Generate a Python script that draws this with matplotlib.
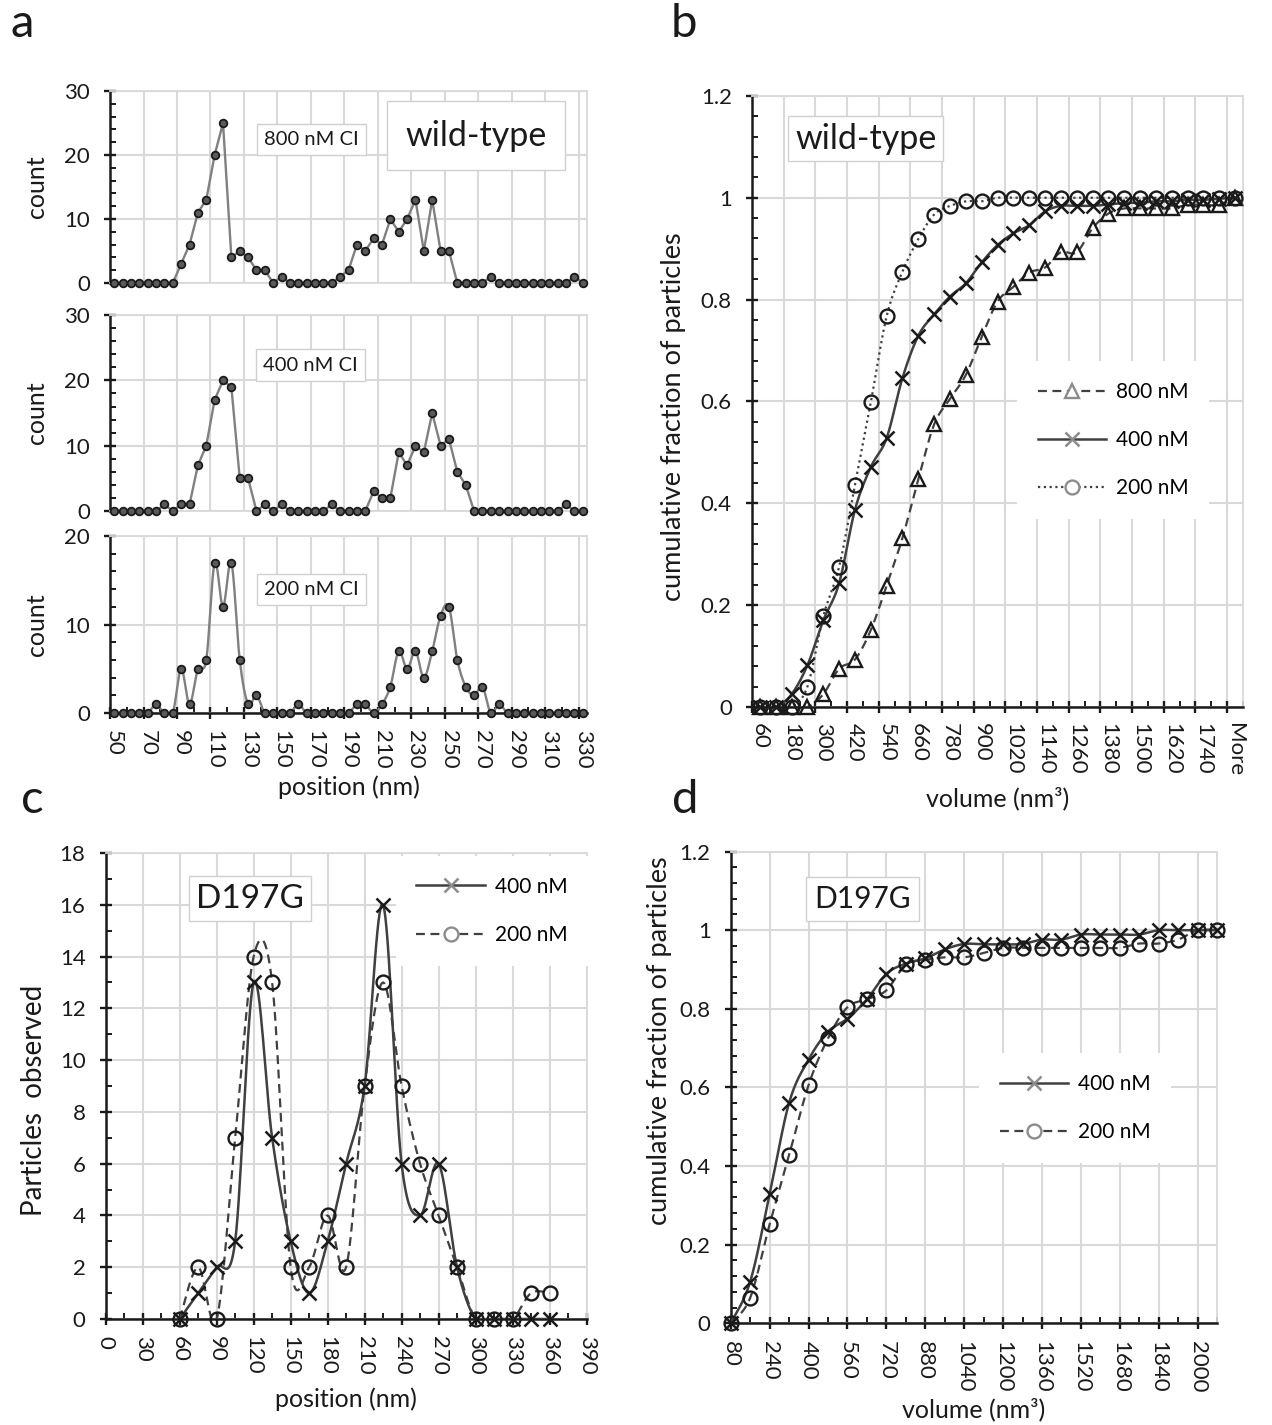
import numpy as np
import matplotlib
matplotlib.use("Agg")
import matplotlib.pyplot as plt
from matplotlib.lines import Line2D
from matplotlib.ticker import MultipleLocator, FixedLocator, FuncFormatter

plt.rcParams["font.family"] = ["Lato", "DejaVu Sans"]

# ---------------- data ----------------
# panel a: particle counts per 5 nm position bin (wild-type)
a_positions = np.arange(50, 335, 5)
a_800 = [0, 0, 0, 0, 0, 0, 0, 0, 3, 6, 11, 13, 20, 25, 4, 5, 4, 2, 2, 0, 1,
         0, 0, 0, 0, 0, 0, 1, 2, 6, 5, 7, 6, 10, 8, 10, 13, 5, 13, 5, 5,
         0, 0, 0, 0, 1, 0, 0, 0, 0, 0, 0, 0, 0, 0, 1, 0]
a_400 = [0, 0, 0, 0, 0, 0, 1, 0, 1, 1, 7, 10, 17, 20, 19, 5, 5, 0, 1, 0, 1,
         0, 0, 0, 0, 0, 1, 0, 0, 0, 0, 3, 2, 2, 9, 7, 10, 9, 15, 10, 11, 6, 4,
         0, 0, 0, 0, 0, 0, 0, 0, 0, 0, 0, 1, 0, 0]
a_200 = [0, 0, 0, 0, 0, 1, 0, 0, 5, 1, 5, 6, 17, 12, 17, 6, 1, 2,
         0, 0, 0, 0, 1, 0, 0, 0, 0, 0, 0, 1, 1, 0, 1,
         3, 7, 5, 7, 4, 7, 11, 12, 6, 3, 2, 3, 0, 1,
         0, 0, 0, 0, 0, 0, 0, 0, 0, 0]

# panel b: cumulative fraction vs volume bin (wild-type)
b_bins = [str(v) for v in range(60, 1801, 60)] + ["More"]
b_800 = [0, 0, 0, 0, 0.025, 0.075, 0.093, 0.151, 0.238, 0.332, 0.447, 0.555,
         0.605, 0.652, 0.727, 0.796, 0.825, 0.853, 0.863, 0.893, 0.893, 0.94,
         0.969, 0.979, 0.979, 0.979, 0.979, 0.986, 0.986, 0.986, 1.0]
b_400 = [0, 0, 0.025, 0.082, 0.170, 0.243, 0.387, 0.471, 0.528, 0.646, 0.729,
         0.771, 0.806, 0.832, 0.873, 0.907, 0.930, 0.946, 0.973, 0.984, 0.984,
         0.984, 0.987, 0.99, 0.99, 0.993, 0.993, 0.996, 0.996, 0.998, 1.0]
b_200 = [0, 0, 0, 0.04, 0.178, 0.275, 0.436, 0.598, 0.767, 0.855, 0.919, 0.967,
         0.984, 0.993, 0.993, 1.0, 1.0, 1.0, 1.0, 1.0, 1.0, 1.0, 1.0, 1.0, 1.0,
         1.0, 1.0, 1.0, 1.0, 1.0, 1.0]

# panel c: particles observed vs position (D197G)
c_positions = [60, 75, 90, 105, 120, 135, 150, 165, 180, 195, 210, 225, 240,
               255, 270, 285, 300, 315, 330, 345, 360]
c_400 = [0, 1, 2, 3, 13, 7, 3, 1, 3, 6, 9, 16, 6, 4, 6, 2, 0, 0, 0, 0, 0]
c_200 = [0, 2, 0, 7, 14, 13, 2, 2, 4, 2, 9, 13, 9, 6, 4, 2, 0, 0, 0, 1, 1]

# panel d: cumulative fraction vs volume (D197G)
d_volumes = [80, 160, 240, 320, 400, 480, 560, 640, 720, 800, 880, 960, 1040,
             1120, 1200, 1280, 1360, 1440, 1520, 1600, 1680, 1760, 1840, 1920,
             2000, 2080]
d_400 = [0, 0.106, 0.328, 0.561, 0.671, 0.742, 0.775, 0.824, 0.889, 0.915,
         0.928, 0.951, 0.965, 0.964, 0.964, 0.965, 0.976, 0.976, 0.989, 0.989,
         0.989, 0.989, 1.0, 1.0, 1.0, 1.0]
d_200 = [0, 0.065, 0.252, 0.428, 0.606, 0.725, 0.804, 0.824, 0.847, 0.913,
         0.924, 0.931, 0.931, 0.942, 0.955, 0.955, 0.955, 0.955, 0.955, 0.955,
         0.955, 0.966, 0.966, 0.976, 1.0, 1.0]

GRID = "#d9d9d9"
LINE = "#404040"
INK = "#1a1a1a"
HANDLE = "#8c8c8c"
TICK_FS = 16
LABEL_FS = 18


def smooth(x, y, n=16):
    """Excel-like smoothed line (cubic bezier through the points)."""
    p = np.column_stack([x, y]).astype(float)
    p = np.vstack([p[0], p, p[-1]])
    t = np.linspace(0, 1, n, endpoint=False)[:, None]
    segs = []
    for i in range(1, len(p) - 2):
        p0, p1, p2, p3 = p[i - 1], p[i], p[i + 1], p[i + 2]
        c1 = p1 + (p2 - p0) / 6
        c2 = p2 - (p3 - p1) / 6
        segs.append((1 - t) ** 3 * p1 + 3 * (1 - t) ** 2 * t * c1
                    + 3 * (1 - t) * t ** 2 * c2 + t ** 3 * p2)
    segs.append(p[-2][None])
    pts = np.vstack(segs)
    return pts[:, 0], pts[:, 1]


def frame(ax):
    ax.set_axisbelow(True)
    for side in ("top", "right"):
        ax.spines[side].set_color(GRID)
        ax.spines[side].set_linewidth(1.3)
    for side in ("left", "bottom"):
        ax.spines[side].set_color(INK)
        ax.spines[side].set_linewidth(1.8)
    ax.tick_params(which="major", direction="inout", length=9, width=1.7,
                   color=INK, labelsize=TICK_FS, labelcolor=INK)
    ax.tick_params(which="minor", direction="in", length=4.5, width=1.4, color=INK)
    ax.tick_params(axis="y", which="major", pad=10)
    ax.tick_params(axis="x", which="major", pad=8)
    ax.grid(True, which="major", color=GRID, lw=1.5)


def tag(ax, x, y, s, size, pad):
    ax.text(x, y, s, transform=ax.transAxes, ha="center", va="center",
            fontsize=size, color=INK, zorder=6,
            bbox=dict(boxstyle=f"square,pad={pad}", fc="white", ec="#d0d0d0", lw=1))


def cat_labels(ax, pos, labels, pad):
    sec = ax.secondary_xaxis("bottom")
    sec.set_xticks(pos, labels=labels)
    sec.tick_params(length=0, pad=pad, labelsize=TICK_FS, labelrotation=-90,
                    labelcolor=INK)
    sec.spines["bottom"].set_visible(False)


def legend(ax, handles, x, y):
    leg = ax.legend(handles=handles, loc="center", bbox_to_anchor=(x, y),
                    fontsize=15, handlelength=3.3, labelspacing=1.35,
                    frameon=True, fancybox=False, framealpha=1, borderpad=1.0,
                    handletextpad=0.45)
    leg.get_frame().set_edgecolor("none")
    leg.set_zorder(7)


fig = plt.figure(figsize=(12.72, 14.25), dpi=100)

# ---------------- panel a ----------------
a_sets = [
    (a_800, "800 nM CI", 30, [0.0865, 0.8014, 0.375, 0.1347], (0.423, 0.747)),
    (a_400, "400 nM CI", 30, [0.0865, 0.6414, 0.375, 0.1375], (0.421, 0.745)),
    (a_200, "200 nM CI", 20, [0.0865, 0.4996, 0.375, 0.1242], (0.423, 0.698)),
]
for k, (vals, label, ymax, rect, tpos) in enumerate(a_sets):
    ax = fig.add_axes(rect)
    frame(ax)
    if k == 2:
        sx, sy = smooth(a_positions, vals, 8)
        ax.plot(sx, sy, color="#808080", lw=1.7, zorder=3)
    else:
        ax.plot(a_positions, vals, color="#808080", lw=1.7, zorder=3)
    ax.plot(a_positions, vals, ls="none", marker="o", ms=5.5, mfc="#5a5a5a",
            mec=INK, mew=1.3, zorder=4, clip_on=False)
    ax.set_xlim(47.5, 332.5)
    ax.set_ylim(0, ymax)
    ax.yaxis.set_major_locator(MultipleLocator(10))
    ax.yaxis.set_minor_locator(MultipleLocator(2))
    ax.xaxis.set_major_locator(FixedLocator(np.arange(47.5, 333, 20)))
    ax.xaxis.set_minor_locator(FixedLocator(np.arange(57.5, 333, 20)))
    ax.set_ylabel("count", fontsize=LABEL_FS, color=INK)
    ax.yaxis.set_label_coords(-0.13, 0.5)
    tag(ax, tpos[0], tpos[1], label, 14.5, 0.35)
    if k < 2:
        ax.tick_params(axis="x", which="both", length=0, labelbottom=False)
        ax.spines["bottom"].set_color(GRID)
        ax.spines["bottom"].set_linewidth(1.3)
    else:
        ax.tick_params(axis="x", labelbottom=False)
        cat_labels(ax, a_positions[::4], [str(v) for v in a_positions[::4]], 12)
        ax.set_xlabel("position (nm)", fontsize=LABEL_FS, color=INK)
        ax.xaxis.set_label_coords(0.5, -0.35)
    if k == 0:
        tag(ax, 0.767, 0.768, "wild-type", 24.5, 0.55)

# ---------------- panel b ----------------
ax = fig.add_axes([0.5912, 0.5039, 0.386, 0.4288])
frame(ax)
b_idx = np.arange(len(b_bins))
bx, by = smooth(b_idx, b_800)
ax.plot(bx, by, color=LINE, lw=1.6, ls=(0, (4, 2.5)), zorder=3)
ax.plot(b_idx, b_800, ls="none", marker="^", ms=10, mfc="none", mec=INK,
        mew=1.7, zorder=4, clip_on=False)
bx, by = smooth(b_idx, b_400)
ax.plot(bx, by, color=LINE, lw=1.8, zorder=3)
ax.plot(b_idx, b_400, ls="none", marker="x", ms=10, mec=INK, mew=1.8,
        zorder=4, clip_on=False)
bx, by = smooth(b_idx, b_200)
ax.plot(bx, by, color=LINE, lw=1.6, ls=(0, (1, 1.6)), zorder=3)
ax.plot(b_idx, b_200, ls="none", marker="o", ms=10, mfc="none", mec=INK,
        mew=1.7, zorder=4, clip_on=False)
ax.set_xlim(-0.5, 30.5)
ax.set_ylim(0, 1.2)
ax.xaxis.set_major_locator(FixedLocator(np.arange(-0.5, 30, 2)))
ax.xaxis.set_minor_locator(FixedLocator(np.arange(0.5, 31, 2)))
ax.yaxis.set_major_locator(MultipleLocator(0.2))
ax.yaxis.set_minor_locator(MultipleLocator(0.04))
ax.yaxis.set_major_formatter(FuncFormatter(lambda v, p: f"{v:g}"))
ax.tick_params(axis="x", labelbottom=False)
cat_labels(ax, b_idx[::2], b_bins[::2], 11.5)
ax.set_ylabel("cumulative fraction of particles", fontsize=19.5, color=INK)
ax.yaxis.set_label_coords(-0.134, 0.475)
ax.set_xlabel("volume (nm³)", fontsize=LABEL_FS, color=INK)
ax.xaxis.set_label_coords(0.5, -0.131)
tag(ax, 0.232, 0.93, "wild-type", 24.5, 0.2)
legend(ax, [
    Line2D([], [], color=LINE, lw=1.6, ls=(0, (4, 2.5)), marker="^", ms=10,
           mfc="white", mec=HANDLE, mew=1.7, label="800 nM"),
    Line2D([], [], color=LINE, lw=1.8, marker="x", ms=10, mec=HANDLE,
           mew=1.8, label="400 nM"),
    Line2D([], [], color=LINE, lw=1.6, ls=(0, (1, 1.6)), marker="o", ms=10,
           mfc="white", mec=HANDLE, mew=1.7, label="200 nM"),
], 0.735, 0.437)

# ---------------- panel c ----------------
ax = fig.add_axes([0.0831, 0.0744, 0.378, 0.327])
frame(ax)
cx, cy = smooth(c_positions, c_400)
ax.plot(cx, cy, color=LINE, lw=1.8, zorder=3)
ax.plot(c_positions, c_400, ls="none", marker="x", ms=10, mec=INK, mew=1.8,
        zorder=4, clip_on=False)
cx, cy = smooth(c_positions, c_200)
ax.plot(cx, cy, color=LINE, lw=1.6, ls=(0, (4, 2.5)), zorder=3)
ax.plot(c_positions, c_200, ls="none", marker="o", ms=10, mfc="none", mec=INK,
        mew=1.7, zorder=4, clip_on=False)
ax.set_xlim(0, 390)
ax.set_ylim(0, 18)
ax.xaxis.set_major_locator(MultipleLocator(30))
ax.xaxis.set_minor_locator(MultipleLocator(15))
ax.yaxis.set_major_locator(MultipleLocator(2))
ax.yaxis.set_minor_locator(MultipleLocator(1))
ax.tick_params(axis="x", labelrotation=-90)
ax.set_ylabel("Particles  observed", fontsize=20, color=INK)
ax.yaxis.set_label_coords(-0.122, 0.47)
ax.set_xlabel("position (nm)", fontsize=LABEL_FS, color=INK)
ax.xaxis.set_label_coords(0.5, -0.146)
tag(ax, 0.30, 0.902, "D197G", 24, 0.22)
legend(ax, [
    Line2D([], [], color=LINE, lw=1.8, marker="x", ms=10, mec=HANDLE,
           mew=1.8, label="400 nM"),
    Line2D([], [], color=LINE, lw=1.6, ls=(0, (4, 2.5)), marker="o", ms=10,
           mfc="white", mec=HANDLE, mew=1.7, label="200 nM"),
], 0.803, 0.876)

# ---------------- panel d ----------------
ax = fig.add_axes([0.5745, 0.0714, 0.3823, 0.331])
frame(ax)
dx, dy = smooth(d_volumes, d_400)
ax.plot(dx, dy, color=LINE, lw=1.8, zorder=3)
ax.plot(d_volumes, d_400, ls="none", marker="x", ms=10, mec=INK, mew=1.8,
        zorder=4, clip_on=False)
dx, dy = smooth(d_volumes, d_200)
ax.plot(dx, dy, color=LINE, lw=1.6, ls=(0, (4, 2.5)), zorder=3)
ax.plot(d_volumes, d_200, ls="none", marker="o", ms=10, mfc="none", mec=INK,
        mew=1.7, zorder=4, clip_on=False)
ax.set_xlim(80, 2080)
ax.set_ylim(0, 1.2)
ax.xaxis.set_major_locator(FixedLocator(np.arange(80, 2001, 160)))
ax.xaxis.set_minor_locator(FixedLocator(np.arange(160, 2081, 160)))
ax.yaxis.set_major_locator(MultipleLocator(0.2))
ax.yaxis.set_minor_locator(MultipleLocator(0.04))
ax.yaxis.set_major_formatter(FuncFormatter(lambda v, p: f"{v:g}"))
ax.tick_params(axis="x", labelrotation=-90)
ax.set_ylabel("cumulative fraction of particles", fontsize=19.5, color=INK)
ax.yaxis.set_label_coords(-0.121, 0.6)
ax.set_xlabel("volume (nm³)", fontsize=LABEL_FS, color=INK)
ax.xaxis.set_label_coords(0.5, -0.158)
tag(ax, 0.271, 0.899, "D197G", 21.5, 0.27)
legend(ax, [
    Line2D([], [], color=LINE, lw=1.8, marker="x", ms=10, mec=HANDLE,
           mew=1.8, label="400 nM"),
    Line2D([], [], color=LINE, lw=1.6, ls=(0, (4, 2.5)), marker="o", ms=10,
           mfc="white", mec=HANDLE, mew=1.7, label="200 nM"),
], 0.708, 0.4565)

# panel letters
for letter, px, py in [("a", 22, 37), ("b", 684, 37), ("c", 32, 813), ("d", 685, 813)]:
    fig.text(px / 1272, 1 - py / 1425, letter, fontsize=34, ha="center",
             va="baseline", color=INK)

fig.savefig("out.png", dpi=100)
